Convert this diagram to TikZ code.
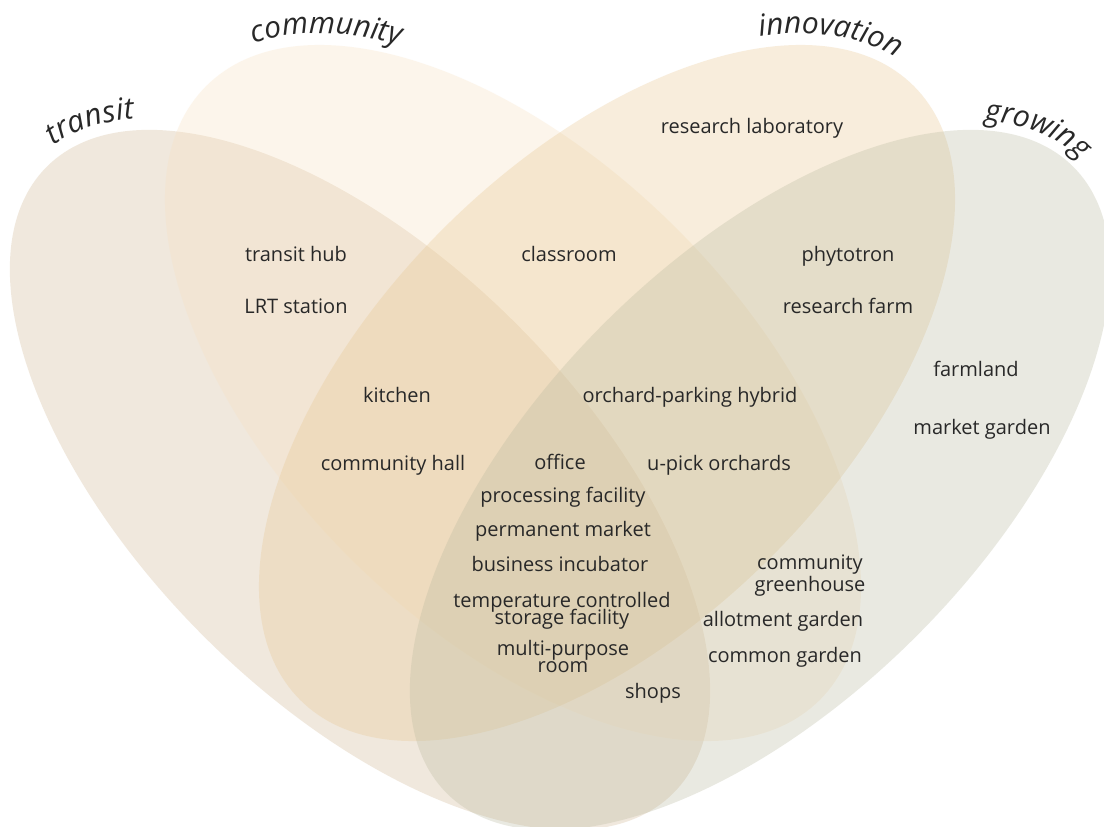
\documentclass[tikz,border=0pt]{standalone}
\usepackage{fontspec}
\setmainfont{Open Sans}
\usetikzlibrary{decorations.text}
\definecolor{transitfill}{RGB}{208,182,145}
\definecolor{communityfill}{RGB}{248,225,192}
\definecolor{innovationfill}{RGB}{232,198,142}
\definecolor{growingfill}{RGB}{185,185,158}
\definecolor{labelink}{RGB}{40,40,40}
\newcommand\setfontlbl{\fontsize{20}{20}\selectfont}
\newcommand\setfonttight{\fontsize{20}{17}\selectfont\lineskiplimit=-\maxdimen}
\newcommand\setfonttitle{\fontsize{30}{30}\selectfont\itshape}
\begin{document}
\begin{tikzpicture}[x=1pt,y=-1pt,
  setfill/.style={fill=#1, fill opacity=0.3},
  item/.style={font=\setfontlbl, text=labelink, anchor=base, inner sep=0pt, align=center},
  settitle/.style={decorate, decoration={text along path, text align=center,
      text={|\setfonttitle\color{labelink}|#1}}}]
\useasboundingbox (0,0) rectangle (1104,827);
\fill[white] (0,0) rectangle (1104,827);

% transit set
\begin{scope}[shift={(360,480)}, rotate=-45]
  \fill[setfill=transitfill] (0,0) ellipse [x radius=443pt, y radius=221pt];
  \path[settitle=transit] (189:455pt and 233pt)
    arc [start angle=189, end angle=145, x radius=455pt, y radius=233pt];
\end{scope}
% community set
\begin{scope}[shift={(513,393)}, rotate=-45]
  \fill[setfill=communityfill] (0,0) ellipse [x radius=434pt, y radius=232pt];
  \path[settitle=community] (172:446pt and 244pt)
    arc [start angle=172, end angle=132, x radius=446pt, y radius=244pt];
\end{scope}
% innovation set
\begin{scope}[shift={(607,393)}, rotate=45]
  \fill[setfill=innovationfill] (0,0) ellipse [x radius=434pt, y radius=232pt];
  \path[settitle=innovation] (41:446pt and 244pt)
    arc [start angle=41, end angle=1, x radius=446pt, y radius=244pt];
\end{scope}
% growing set
\begin{scope}[shift={(760,480)}, rotate=45]
  \fill[setfill=growingfill] (0,0) ellipse [x radius=443pt, y radius=221pt];
  \path[settitle=growing] (33:453pt and 231pt)
    arc [start angle=33, end angle=-11, x radius=453pt, y radius=231pt];
\end{scope}

% items in each region
\node[item] (lab)   at (752,133) {research laboratory};
\node[item] (hub)   at (296,261) {transit hub};
\node[item] (class) at (569,261) {classroom};
\node[item] (phyto) at (848,261) {phytotron};
\node[item] (lrt)   at (296,313) {LRT station};
\node[item] (rfarm) at (848,313) {research farm};
\node[item] (farm)  at (976,376) {farmland};
\node[item] (kitch) at (397,402) {kitchen};
\node[item] (opark) at (690,402) {orchard-parking hybrid};
\node[item] (mgard) at (982,434) {market garden};
\node[item] (chall) at (393,470) {community hall};
\node[item] (off)   at (560,469) {office};
\node[item] (upick) at (719,470) {u-pick orchards};
\node[item] (proc)  at (563,502) {processing facility};
\node[item] (pmkt)  at (563,536) {permanent market};
\node[item] (incub) at (560,571) {business incubator};
\node[item, font=\fontsize{20}{22}\selectfont] (cgh) at (810,591) {community\\greenhouse};
\node[item, font=\setfonttight] (temp) at (562,624) {temperature controlled\\storage facility};
\node[item] (allot) at (783,626) {allotment garden};
\node[item, font=\setfonttight] (multi) at (563,672) {multi-purpose\\room};
\node[item] (cgard) at (785,662) {common garden};
\node[item] (shops) at (653,698) {shops};
\end{tikzpicture}
\end{document}
